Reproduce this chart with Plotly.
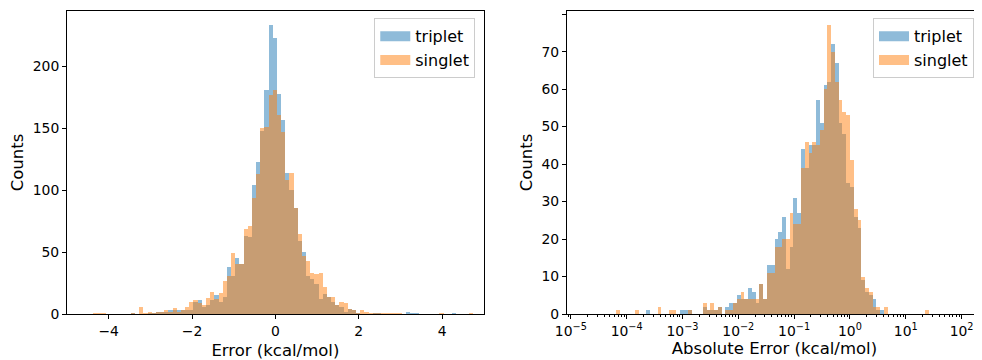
import numpy as np
import plotly.graph_objects as go

# ---------------- data ----------------
# Left panel: signed error histogram (shared bins)
err_bin_start = -4.365
err_bin_width = 0.1
err_triplet_counts = [
    0, 0, 0, 0, 0, 0, 0, 0, 0, 1,
    0, 0, 0, 1, 1, 2, 2, 2, 3, 3,
    3, 3, 3, 3, 10, 11, 6, 7, 11, 15,
    10, 14, 38, 31, 45, 40, 63, 62, 104, 123,
    148, 181, 233, 223, 178, 157, 114, 100, 86, 59,
    50, 31, 28, 24, 12, 16, 14, 10, 7, 6,
    2, 4, 3, 1, 0, 0, 0, 1, 1, 0,
    0, 0, 0, 0, 0, 2, 1, 1, 0, 0,
    0, 0, 0, 0, 0, 0, 1, 0, 0, 0,
    0]
err_singlet_counts = [
    1, 1, 1, 0, 0, 0, 0, 0, 0, 1,
    0, 6, 1, 2, 1, 2, 2, 3, 2, 5,
    2, 3, 6, 10, 11, 9, 7, 13, 18, 12,
    17, 27, 31, 49, 40, 40, 69, 71, 94, 113,
    150, 151, 177, 181, 161, 147, 108, 114, 86, 65,
    47, 43, 33, 32, 33, 22, 14, 14, 7, 10,
    9, 4, 3, 1, 3, 2, 1, 1, 1, 1,
    1, 1, 1, 1, 0, 0, 0, 0, 0, 0,
    0, 0, 0, 1, 0, 0, 0, 0, 0, 0,
    1]

# Right panel: absolute error histogram, log-spaced bins (log10 of edges)
abs_log_bin_start = -4.732
abs_log_bin_width = 0.0676
abs_triplet_nonzero = {16: 1, 25: 1, 26: 1, 27: 1, 31: 2, 32: 1, 33: 1, 34: 1, 35: 2,
                       37: 2, 38: 3, 39: 3, 40: 5, 41: 4, 42: 4, 43: 7, 44: 6, 45: 3,
                       46: 8, 47: 4, 48: 13, 49: 13, 50: 20, 51: 22, 52: 26, 53: 12,
                       54: 18, 55: 31, 56: 27, 57: 44, 58: 39, 59: 45, 60: 45, 61: 57,
                       62: 51, 63: 61, 64: 62, 65: 72, 66: 67, 67: 51, 68: 48, 69: 35,
                       70: 34, 71: 26, 72: 23, 73: 9, 74: 6, 75: 5, 76: 4, 77: 1, 78: 1}
abs_singlet_nonzero = {8: 1, 13: 1, 19: 2, 22: 1, 23: 1, 27: 1, 31: 3, 32: 1, 33: 3,
                       34: 1, 35: 2, 37: 1, 38: 1, 39: 3, 40: 4, 41: 6, 42: 4, 43: 4,
                       44: 4, 45: 4, 46: 8, 47: 4, 48: 11, 49: 11, 50: 18, 51: 18,
                       52: 20, 53: 20, 54: 27, 55: 24, 56: 24, 57: 39, 58: 46, 59: 43,
                       60: 46, 61: 45, 62: 49, 63: 60, 64: 77, 65: 70, 66: 62, 67: 57,
                       68: 54, 69: 53, 70: 41, 71: 28, 72: 25, 73: 10, 74: 7, 75: 6,
                       76: 2, 77: 2, 79: 2, 90: 1}
abs_n_bins = 100
abs_triplet_counts = [abs_triplet_nonzero.get(i, 0) for i in range(abs_n_bins)]
abs_singlet_counts = [abs_singlet_nonzero.get(i, 0) for i in range(abs_n_bins)]

series_names = ["triplet", "singlet"]
decade_exponents = [-5, -4, -3, -2, -1, 0, 1, 2]

# ---------------- styling ----------------
BLUE = "rgba(31,119,180,0.5)"
ORANGE = "rgba(255,127,14,0.5)"
FONT = "DejaVu Sans"
OFF = 8                      # page body margin of the html page
W, H = 982 - OFF, 360 - OFF  # figure size so it fits the window
ML = 66.5 - OFF
MT = 10.7 - OFF
MB = H - (314.3 - OFF)
PW = W - ML
PH = H - MT - MB

def centers(start, width, n):
    return [start + width * (i + 0.5) for i in range(n)]

def dom_x(p0, p1):
    # page-pixel positions -> domain fraction
    return [max(0.0, (p0 - OFF - ML) / PW), min(1.0, (p1 - OFF - ML) / PW)]

def dom_y(p):
    return 1 - (p - OFF - MT) / PH

fig = go.Figure()

err_x = centers(err_bin_start, err_bin_width, len(err_triplet_counts))
abs_x = centers(abs_log_bin_start, abs_log_bin_width, abs_n_bins)

panels = [
    ("x", "y", "legend", err_x, err_bin_width, err_triplet_counts, err_singlet_counts),
    ("x2", "y2", "legend2", abs_x, abs_log_bin_width, abs_triplet_counts, abs_singlet_counts),
]
for xa, ya, lg, xs, wd, tcounts, scounts in panels:
    for name, counts, color in [(series_names[0], tcounts, BLUE),
                                (series_names[1], scounts, ORANGE)]:
        fig.add_trace(go.Bar(x=xs, y=counts, width=wd, name=name,
                             marker=dict(color=color, line=dict(width=0)),
                             xaxis=xa, yaxis=ya, showlegend=False,
                             legendgroup=name + xa))
        # legend handle drawn as a wide patch (like matplotlib's)
        fig.add_trace(go.Scatter(x=[None], y=[None], mode="lines", name=name,
                                 line=dict(color=color, width=12),
                                 xaxis=xa, yaxis=ya, legend=lg,
                                 legendgroup=name + xa, hoverinfo="skip"))

ax_common = dict(showline=True, linecolor="black", linewidth=1, mirror=True,
                 ticks="outside", ticklen=4, tickwidth=1, tickcolor="black",
                 showgrid=False, zeroline=False, automargin=False,
                 tickfont=dict(family=FONT, size=13.9, color="black"))
title_font = dict(family=FONT, size=16.5, color="black")

minor_vals = [float(np.log10(m) + e) for e in range(-6, 3) for m in range(2, 10)]

legend_common = dict(xanchor="right", yanchor="top", bgcolor="rgba(255,255,255,0.8)",
                     bordercolor="#cccccc", borderwidth=1,
                     font=dict(family=FONT, size=16, color="black"),
                     itemwidth=30, tracegroupgap=0)

fig.update_layout(
    width=W, height=H,
    paper_bgcolor="white", plot_bgcolor="white",
    margin=dict(l=ML, r=0, t=MT, b=MB, pad=0, autoexpand=False),
    barmode="overlay",
    bargap=0,
    font=dict(family=FONT, color="black"),
    xaxis=dict(domain=dom_x(66.5, 483.5), range=[-5, 5],
               tickvals=[-4, -2, 0, 2, 4], anchor="y",
               title=dict(text="Error (kcal/mol)", font=title_font, standoff=6),
               **ax_common),
    yaxis=dict(domain=[0, 1], range=[0, 244.7],
               tickvals=[0, 50, 100, 150, 200], anchor="x",
               title=dict(text="Counts", font=title_font, standoff=5),
               **ax_common),
    xaxis2=dict(domain=dom_x(566.7, 982), range=[-5.07, 2.366],
                tickvals=decade_exponents,
                ticktext=["10<sup>\u2212%d</sup>" % (-e) if e < 0 else "10<sup>%d</sup>" % e
                          for e in decade_exponents],
                minor=dict(tickvals=minor_vals, ticks="outside", ticklen=2,
                           tickwidth=0.8, tickcolor="black"),
                anchor="y2",
                title=dict(text="Absolute Error (kcal/mol)", font=title_font, standoff=4),
                **ax_common),
    yaxis2=dict(domain=[0, 1], range=[0, 80.85],
                tickvals=list(range(0, 81, 10)), anchor="x2",
                title=dict(text="Counts", font=title_font, standoff=4),
                **ax_common),
    legend=dict(x=dom_x(66.5, 475)[1], y=dom_y(18), **legend_common),
    legend2=dict(x=dom_x(66.5, 974)[1], y=dom_y(18), **legend_common),
)

fig.write_html("out.html")
